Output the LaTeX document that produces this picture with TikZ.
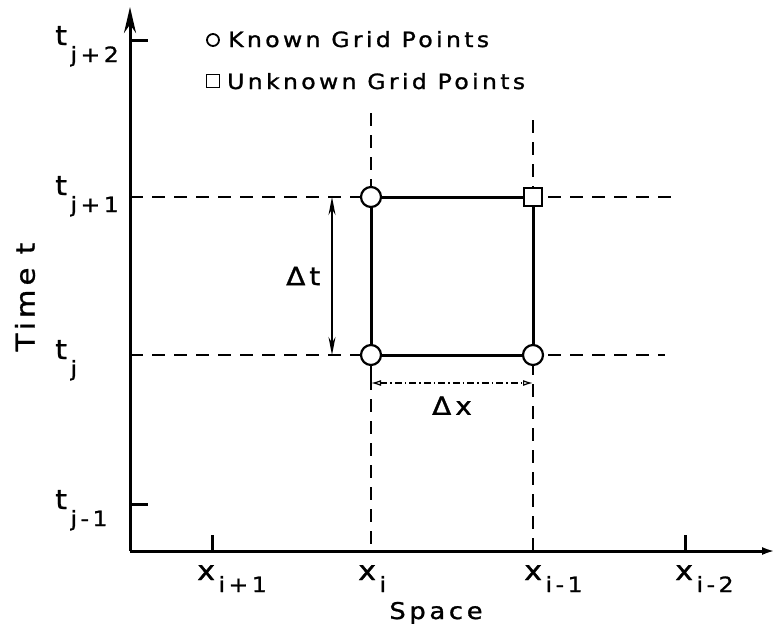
\documentclass[tikz,border=0pt]{standalone}
\usepackage{fontspec}
\setmainfont[FakeStretch=1.12, LetterSpace=16, FakeBold=1.2]{DejaVu Sans}
\usepackage{tikz}
\usetikzlibrary{arrows.meta}

\newcommand{\tsub}[1]{{\fontsize{27}{27}\selectfont t}\raisebox{-17pt}{\,#1}}
\newcommand{\xsub}[1]{{\fontsize{27}{27}\selectfont x}\raisebox{-12pt}{\,#1}}

\begin{document}
\begin{tikzpicture}[x=1pt, y=-1pt,
  axis/.style={line width=3pt},
  gridline/.style={line width=1.8pt, dash pattern=on 13pt off 9pt},
  cell/.style={line width=3pt},
  known/.style={circle, draw, line width=2.2pt, fill=white, minimum size=20pt, inner sep=0pt},
  unknown/.style={rectangle, draw, line width=2.2pt, fill=white, minimum size=18pt, inner sep=0pt},
  ticklab/.style={anchor=base west, inner sep=0pt, font=\fontsize{21}{21}\selectfont},
  title/.style={inner sep=0pt, font=\fontsize{23}{23}\selectfont},
  legend/.style={anchor=base west, inner sep=0pt, font=\fontsize{21}{21}\selectfont}]
\useasboundingbox (0,0) rectangle (777,635);

% Axes
\coordinate (O) at (130,551);
\coordinate (ytop) at (130,7);
\coordinate (xend) at (775,551);
\draw[axis, -{Stealth[length=26pt, width=12pt]}] (O) -- (ytop);
\draw[axis, -{Latex[open, length=13pt, width=8pt]}] (O) -- (xend);

% Time ticks
\draw[axis] (130,40) -- (148,40);
\draw[axis] (130,504) -- (148,504);
\node[ticklab] (tjp2) at (55,45) {\tsub{j\,+\,2}};
\node[ticklab] (tjp1) at (55,195) {\tsub{j\,+\,1}};
\node[ticklab] (tj)   at (55,359) {\tsub{j}};
\node[ticklab] (tjm1) at (55,509) {\tsub{j\,-\,1}};

% Space ticks
\draw[axis] (212,551) -- (212,535);
\draw[axis] (685,551) -- (685,535);
\node[ticklab] (xip1) at (197,580) {\xsub{i\,+\,1}};
\node[ticklab] (xi)   at (358,580) {\xsub{i}};
\node[ticklab] (xim1) at (524,580) {\xsub{i\,-\,1}};
\node[ticklab] (xim2) at (675,580) {\xsub{i\,-\,2}};

% Axis titles
\node[title, anchor=base] (space) at (436,619) {Space};
\node[title, rotate=90, font=\fontsize{26}{26}\selectfont] (time) at (25,297) {Time t};

% Grid lines
\draw[gridline] (130,197) -- (678,197);
\draw[gridline] (130,355) -- (665,355);
\draw[gridline] (371,113) -- (371,551);
\draw[gridline] (533,120) -- (533,551);

% Computational cell
\draw[cell] (371,197) -- (533,197);
\draw[cell] (371,197) -- (371,355);
\draw[cell] (533,197) -- (533,355);
\draw[cell] (371,355) -- (533,355);
\node[known]   (P01) at (371,197) {};
\node[unknown] (P11) at (533,197) {};
\node[known]   (P00) at (371,355) {};
\node[known]   (P10) at (533,355) {};

% Delta t
\coordinate (dtT) at (332,197);
\coordinate (dtB) at (332,355);
\draw[line width=1.3pt, {Stealth[length=18pt, width=7pt]}-{Stealth[length=18pt, width=7pt]}] (dtT) -- (dtB)
  node[midway, left=11pt, title, font=\fontsize{25}{25}\selectfont] (dt) {Δt};

% Delta x
\coordinate (dxL) at (371,383);
\coordinate (dxR) at (533,383);
\draw[line width=1.6pt] (P00.south) -- (dxL);
\draw[line width=1.2pt, dash pattern=on 7pt off 3pt on 1.5pt off 3pt,
  {Latex[open, length=10pt, width=6pt]}-{Latex[open, length=10pt, width=6pt]}] (dxL) -- (dxR)
  node[midway, below=13pt, title, font=\fontsize{25}{25}\selectfont] (dx) {Δx};

% Legend
\node[circle, draw, line width=1.8pt, minimum size=12pt, inner sep=0pt] (mk) at (213,40) {};
\node[legend] (lk) at (228,47) {Known Grid Points};
\node[rectangle, draw, line width=1.8pt, minimum size=13pt, inner sep=0pt] (mu) at (213,81) {};
\node[legend] (lu) at (227,89) {Unknown Grid Points};
\end{tikzpicture}
\end{document}
